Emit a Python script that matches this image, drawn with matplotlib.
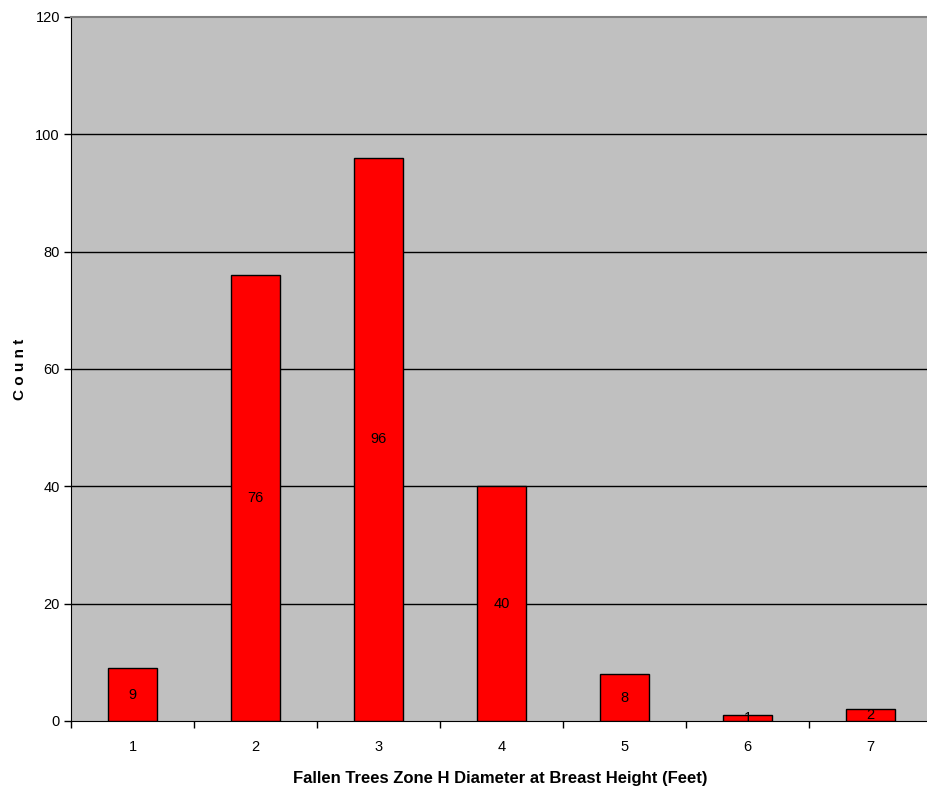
import matplotlib
matplotlib.use("Agg")
import matplotlib.pyplot as plt
import numpy as np

categories = ["1", "2", "3", "4", "5", "6", "7"]
counts = [9, 76, 96, 40, 8, 1, 2]
yticks = [0, 20, 40, 60, 80, 100, 120]

plt.rcParams['font.family'] = ['Liberation Sans', 'DejaVu Sans']

W, H = 928, 796
fig = plt.figure(figsize=(W/100, H/100), dpi=100)
left, right, top, bottom = 71, 932, 17, 721
ax = fig.add_axes([left/W, 1-bottom/H, (right-left)/W, (bottom-top)/H])
ax.set_facecolor('#c0c0c0')

x = np.arange(len(categories))
ax.bar(x, counts, width=0.4, color='#ff0000', edgecolor='black', linewidth=1, zorder=3)
for xi, v in zip(x, counts):
    ax.text(xi, v/2, str(v), ha='center', va='center', fontsize=10.5, zorder=4)

ax.set_xlim(-0.5, len(categories)-0.5)
ax.set_ylim(0, 120)
ax.set_yticks(yticks)
ax.set_yticklabels([str(t) for t in yticks], fontsize=10.5)
for t in yticks[1:-1]:
    ax.axhline(t, color='black', linewidth=1, zorder=1)

ax.set_xticks(x)
ax.set_xticklabels(categories, fontsize=10.5)
ax.tick_params(axis='x', length=0, pad=14)
ax.set_xticks(np.arange(-0.5, len(categories)), minor=True)
ax.tick_params(axis='x', which='minor', length=5, direction='out', width=1)
ax.tick_params(axis='y', length=5, direction='out', width=1, pad=3)

ax.spines['top'].set_color('#808080')
ax.spines['top'].set_linewidth(1.5)
ax.spines['right'].set_visible(False)
ax.spines['left'].set_color('black')
ax.spines['bottom'].set_color('black')

fig.text(20/W, 1-369/H, "C o u n t", rotation=90, ha='center', va='center', fontsize=11, fontweight='bold')
fig.text(500/W, 1-779/H, "Fallen Trees Zone H Diameter at Breast Height (Feet)", ha='center', va='center', fontsize=12, fontweight='bold')

fig.savefig("out.png", dpi=100)
